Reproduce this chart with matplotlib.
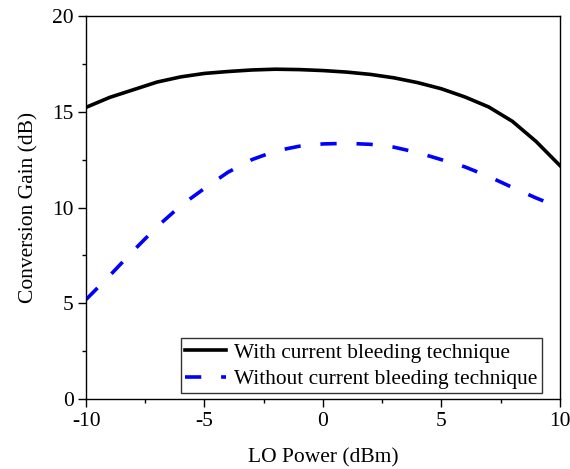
import matplotlib
matplotlib.use("Agg")
import matplotlib.pyplot as plt
from matplotlib.ticker import MultipleLocator

plt.rcParams['font.family'] = ['Liberation Serif', 'DejaVu Serif']
plt.rcParams['axes.unicode_minus'] = False

lo_power = [-10, -9, -8, -7, -6, -5, -4, -3, -2, -1, 0, 1, 2, 3, 4, 5, 6, 7, 8, 9, 10]
gain_with = [15.23, 15.75, 16.15, 16.55, 16.82, 17.0, 17.1, 17.18, 17.22, 17.2, 17.15,
             17.07, 16.95, 16.77, 16.52, 16.2, 15.77, 15.25, 14.5, 13.45, 12.2]
gain_without = [5.2, 6.45, 7.75, 9.0, 10.1, 11.0, 11.85, 12.5, 12.95, 13.2, 13.32,
                13.35, 13.3, 13.15, 12.87, 12.5, 12.12, 11.62, 11.05, 10.5, 10.0]

labels = ['With current bleeding technique', 'Without current bleeding technique']

fig = plt.figure(figsize=(5.70, 4.69), dpi=100)
ax = fig.add_axes([0.151, 0.149, 0.831, 0.817])

ax.plot(lo_power, gain_with, color='black', lw=2.6, label=labels[0])
ax.plot(lo_power, gain_without, color='#0000ff', lw=2.6, dashes=(4.5, 5.5), label=labels[1])

ax.set_xlim(-10, 10)
ax.set_ylim(0, 20)
ax.xaxis.set_major_locator(MultipleLocator(5))
ax.xaxis.set_minor_locator(MultipleLocator(2.5))
ax.yaxis.set_major_locator(MultipleLocator(5))
ax.yaxis.set_minor_locator(MultipleLocator(2.5))
ax.tick_params(which='major', direction='out', length=6, width=1, labelsize=15.5,
               top=False, right=False, pad=3)
ax.tick_params(which='minor', direction='out', length=3, width=1, top=False, right=False)
for s in ax.spines.values():
    s.set_linewidth(1)

ax.set_xlabel('LO Power (dBm)', fontsize=15.5, labelpad=13)
ax.set_ylabel('Conversion Gain (dB)', fontsize=15.5, labelpad=10)

leg = ax.legend(loc='lower right', bbox_to_anchor=(0.962, 0.015), borderaxespad=0,
                fontsize=15.4, frameon=True, fancybox=False, edgecolor='black',
                handlelength=1.9, handletextpad=0.4, borderpad=0.2, labelspacing=0.3)
leg.get_frame().set_linewidth(1)

fig.savefig('out.png', dpi=100)
